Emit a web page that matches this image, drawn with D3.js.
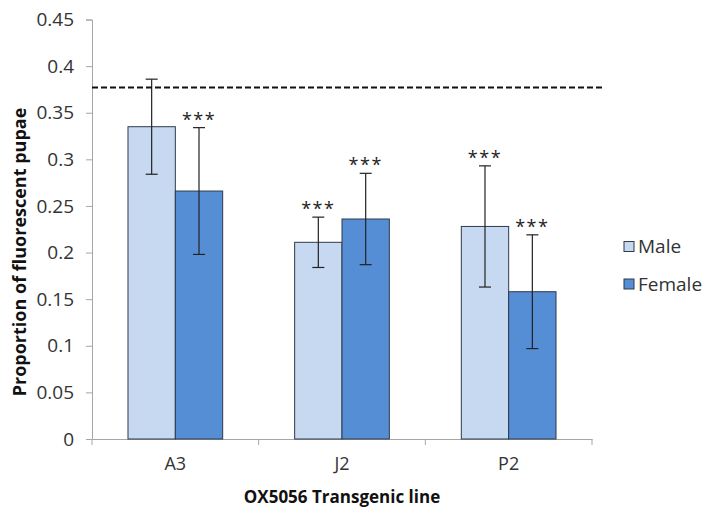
<!DOCTYPE html>
<html>
<head>
<meta charset="utf-8">
<script src="https://cdn.jsdelivr.net/npm/d3@7"></script>
<style>
  body { margin: 0; background: #fff; }
  svg { font-family: "Open Sans", "Liberation Sans", sans-serif; }
</style>
</head>
<body>
<svg id="chart" width="704" height="510"></svg>
<script>
const lines = ["A3", "J2", "P2"];
const sexes = ["Male", "Female"];
const maleValues = [0.335, 0.211, 0.228];
const femaleValues = [0.266, 0.236, 0.158];
const maleErrors = [0.051, 0.027, 0.065];
const femaleErrors = [0.068, 0.049, 0.061];
const maleStars = ["", "***", "***"];
const femaleStars = ["***", "***", "***"];
const yTicks = [0, 0.05, 0.1, 0.15, 0.2, 0.25, 0.3, 0.35, 0.4, 0.45];
const referenceLevel = 0.377;

const colors = { Male: "#c6d9f0", Female: "#558ed5" };
const fontFamily = '"Open Sans", "Liberation Sans", sans-serif';

const svg = d3.select("#chart");
const plotLeft = 92, plotRight = 592, plotTop = 19.5, plotBottom = 439;

const x = d3.scaleBand().domain(lines).range([plotLeft, plotRight]).paddingInner(0).paddingOuter(0);
const x1 = d3.scaleBand().domain(sexes).range([0, x.bandwidth()]).paddingInner(0).paddingOuter(0.76);
const y = d3.scaleLinear().domain([0, 0.45]).range([plotBottom, plotTop]);

// build rows from the arrays
const rows = [];
lines.forEach((l, i) => {
    rows.push({ line: l, sex: "Male", value: maleValues[i], err: maleErrors[i], stars: maleStars[i] });
    rows.push({ line: l, sex: "Female", value: femaleValues[i], err: femaleErrors[i], stars: femaleStars[i] });
});

// y axis
const yAxis = svg.append("g")
    .attr("transform", `translate(${plotLeft},0)`)
    .call(d3.axisLeft(y).tickValues(yTicks).tickSize(6).tickPadding(12).tickFormat(d => String(+d.toFixed(2))))
    .attr("font-family", fontFamily);
yAxis.select(".domain").attr("stroke", "#a6a6a6");
yAxis.selectAll(".tick line").attr("stroke", "#a6a6a6");
yAxis.selectAll(".tick text").attr("font-size", 19).attr("fill", "#333");

// x axis
const xAxis = svg.append("g")
    .attr("transform", `translate(0,${plotBottom})`)
    .call(d3.axisBottom(x).tickSize(0).tickPadding(18))
    .attr("font-family", fontFamily);
xAxis.select(".domain").attr("stroke", "#a6a6a6");
xAxis.selectAll(".tick text").attr("font-size", 18).attr("fill", "#333");
// category boundary ticks
const edges = lines.map(l => x(l)).concat([x(lines[lines.length - 1]) + x.bandwidth()]);
xAxis.selectAll(".sep")
    .data(edges)
    .enter()
    .append("line")
    .attr("class", "sep")
    .attr("x1", d => d)
    .attr("x2", d => d)
    .attr("y1", 0)
    .attr("y2", 6)
    .attr("stroke", "#a6a6a6");

// bars
svg.append("g").selectAll("rect")
    .data(rows)
    .enter()
    .append("rect")
    .attr("x", d => x(d.line) + x1(d.sex))
    .attr("y", d => y(d.value))
    .attr("width", x1.bandwidth())
    .attr("height", d => y(0) - y(d.value))
    .attr("fill", d => colors[d.sex])
    .attr("stroke", "#2e3b4a")
    .attr("stroke-width", 1);

// error bars
const eb = svg.append("g").attr("stroke", "#222").attr("stroke-width", 1.2);
rows.forEach(d => {
    const cx = x(d.line) + x1(d.sex) + x1.bandwidth() / 2;
    eb.append("line").attr("x1", cx).attr("x2", cx)
        .attr("y1", y(d.value + d.err)).attr("y2", y(d.value - d.err));
    eb.append("line").attr("x1", cx - 6).attr("x2", cx + 6)
        .attr("y1", y(d.value + d.err)).attr("y2", y(d.value + d.err));
    eb.append("line").attr("x1", cx - 6).attr("x2", cx + 6)
        .attr("y1", y(d.value - d.err)).attr("y2", y(d.value - d.err));
});

// significance stars
svg.append("g").selectAll("text")
    .data(rows.filter(d => d.stars))
    .enter()
    .append("text")
    .attr("x", d => x(d.line) + x1(d.sex) + x1.bandwidth() / 2)
    .attr("y", d => y(d.value + d.err) - 2)
    .attr("text-anchor", "middle")
    .attr("font-size", 18)
    .attr("letter-spacing", 1.5)
    .attr("fill", "#222")
    .text(d => d.stars);

// dashed reference line
svg.append("line")
    .attr("x1", plotLeft).attr("x2", 603)
    .attr("y1", y(referenceLevel)).attr("y2", y(referenceLevel))
    .attr("stroke", "#111")
    .attr("stroke-width", 2)
    .attr("stroke-dasharray", "6,3");

// legend
const legend = svg.append("g").attr("transform", "translate(624,0)");
sexes.forEach((s, i) => {
    const cy = 246.5 + i * 37.5;
    legend.append("rect")
        .attr("x", 0).attr("y", cy - 5)
        .attr("width", 10).attr("height", 10)
        .attr("fill", colors[s])
        .attr("stroke", "#2e3b4a");
    legend.append("text")
        .attr("x", 14).attr("y", cy)
        .attr("dy", "0.35em")
        .attr("font-size", 19)
        .attr("fill", "#333")
        .text(s);
});

// axis titles
svg.append("text")
    .attr("transform", `translate(26,252) rotate(-90)`)
    .attr("text-anchor", "middle")
    .attr("font-size", 18)
    .attr("font-weight", "bold")
    .attr("fill", "#111")
    .text("Proportion of fluorescent pupae");

svg.append("text")
    .attr("x", 342)
    .attr("y", 503)
    .attr("text-anchor", "middle")
    .attr("font-size", 17)
    .attr("font-weight", "bold")
    .attr("fill", "#111")
    .text("OX5056 Transgenic line");
</script>
</body>
</html>
